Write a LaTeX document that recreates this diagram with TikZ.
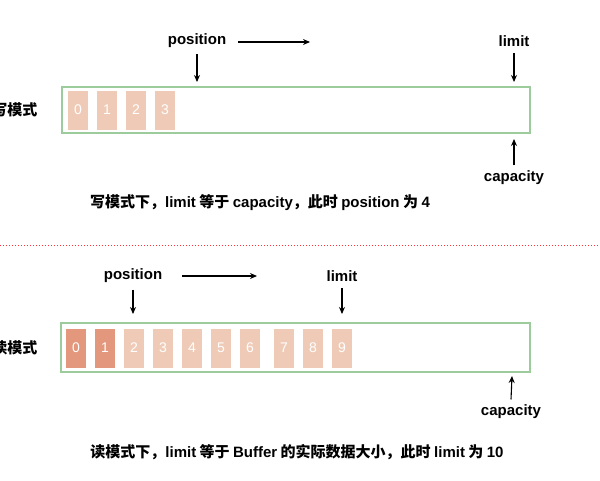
\documentclass[tikz,border=0pt]{standalone}
\usepackage{fontspec}
\setmainfont{Liberation Sans}
\newfontfamily\cjk{Noto Sans CJK SC}
\usetikzlibrary{arrows.meta}
\definecolor{boxgreen}{HTML}{9CCB9C}
\definecolor{celldark}{HTML}{E3977C}
\definecolor{celllight}{HTML}{EFCBB7}
\tikzset{
  buf/.style={draw=boxgreen, line width=2.4pt},
  cell/.style={minimum width=20pt, minimum height=39pt, inner sep=0pt, text=white, font=\fontsize{14}{14}\selectfont},
  lbl/.style={font=\bfseries\fontsize{15}{15}\selectfont},
  zh/.style={font=\cjk\bfseries\fontsize{15}{15}\selectfont},
  arr/.style={-{Stealth[length=7pt,width=6pt]}, line width=1.1pt}
}
\begin{document}
\begin{tikzpicture}[x=1pt,y=-1pt]
\useasboundingbox (0,0) rectangle (600,480);
% write mode
\node [zh, anchor=east] (wmode) at (41,110) {写模式};
\draw [buf] (62,87) rectangle (530,133);
\foreach \i in {0,...,3}
  \node [cell, fill=celllight] (w\i) at (78+29*\i,110) {\i};
\node [lbl] (wpos) at (197,41) {position};
\coordinate (wposend) at (197,82);
\draw [arr] (197,54) -- (wposend);
\draw [arr] (238,42) -- (310,42);
\node [lbl] (wlim) at (514,41) {limit};
\coordinate (wlimend) at (514,82);
\draw [arr] (wlim.south) ++(0,3) -- (wlimend);
\node [lbl] (wcap) at (514,178) {capacity};
\coordinate (wcapend) at (514,139);
\draw [arr] (wcap.north) ++(0,-2) -- (wcapend);
\node [zh] (wtext) at (260,203) {写模式下，{\rmfamily\bfseries limit} 等于 {\rmfamily\bfseries capacity}，此时 {\rmfamily\bfseries position} 为 {\rmfamily\bfseries 4}};
% separator
\draw [red!80, dotted, line width=1pt] (0,245) -- (600,245);
% read mode
\node [zh, anchor=east] (rmode) at (41,348) {读模式};
\draw [buf] (61,323) rectangle (530,372);
\foreach \i/\c in {0/celldark,1/celldark,2/celllight,3/celllight,4/celllight,5/celllight,6/celllight}
  \node [cell, fill=\c] (r\i) at (76+29*\i,348) {\i};
\foreach \i in {7,8,9}
  \node [cell, fill=celllight] (r\i) at (284+29*\i-203,348) {\i};
\node [lbl] (rpos) at (133,276) {position};
\coordinate (rposend) at (133,314);
\draw [arr] (rpos.south) ++(0,3) -- (rposend);
\draw [arr] (182,276) -- (257,276);
\node [lbl] (rlim) at (342,276) {limit};
\coordinate (rlimend) at (342,314);
\draw [arr] (rlim.south) ++(0,3) -- (rlimend);
\node [lbl] (rcap) at (511,412) {capacity};
\coordinate (rcapend) at (512,376);
\draw [arr] (rcap.north) ++(0,-2) -- (rcapend);
\node [zh] (rtext) at (297,452) {读模式下，{\rmfamily\bfseries limit} 等于 {\rmfamily\bfseries Buffer} 的实际数据大小，此时 {\rmfamily\bfseries limit} 为 {\rmfamily\bfseries 10}};
\end{tikzpicture}
\end{document}
